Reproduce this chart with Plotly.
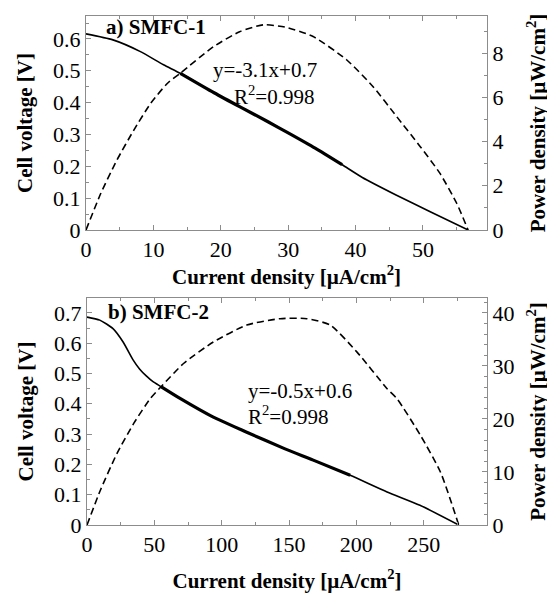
import plotly.graph_objects as go

# ---------------- data ----------------
# a) SMFC-1
i1_v = [0, 4, 8, 11.5, 14, 19, 23, 27, 30, 34, 38, 41, 46, 51, 56.7]
v1 = [0.616, 0.597, 0.561, 0.519, 0.492, 0.431, 0.385, 0.34, 0.305, 0.257, 0.205, 0.165, 0.11, 0.058, 0.0]
i1_p = [0, 2.2, 4.6, 7.1, 9.6, 12.1, 14.0, 18.9, 22.8, 26.3, 29.5, 33.7, 38.7, 42.6, 46.1, 49.6, 52.5, 55.0, 56.7]
p1 = [0, 1.66, 3.17, 4.52, 5.73, 6.64, 7.09, 8.29, 8.97, 9.28, 9.18, 8.75, 7.69, 6.48, 5.13, 3.77, 2.57, 1.21, 0]
fit1_range = [13, 38]

# b) SMFC-2
i2_v = [0, 9.5, 19.3, 26.8, 34.2, 39, 44, 49, 55.2, 69.4, 93.8, 118.2, 146.6, 168, 195.4, 222.8, 247.2, 276]
v2 = [0.686, 0.676, 0.648, 0.604, 0.545, 0.515, 0.492, 0.473, 0.456, 0.417, 0.356, 0.307, 0.252, 0.214, 0.164, 0.109, 0.065, 0]
i2_p = [0, 10, 22.3, 34.8, 47.2, 55.1, 71.9, 93.8, 118.6, 143.4, 163.2, 180.6, 200.5, 222.8, 230.2, 247.6, 262.4, 276]
p2 = [0, 6.6, 13.5, 19.2, 23.9, 26.1, 30.5, 34.5, 37.7, 38.9, 38.9, 37.7, 32.6, 25.7, 23.8, 16.9, 10, 0]
fit2_range = [54, 196]

labels = {
    "title1": "a) SMFC-1", "title2": "b) SMFC-2",
    "eq1": "y=-3.1x+0.7", "eq2": "y=-0.5x+0.6", "r2": "R<sup>2</sup>=0.998",
    "x": "Current density [µA/cm<sup>2</sup>]",
    "yl": "Cell voltage [V]",
    "yr": "Power density [µW/cm<sup>2</sup>]",
}

# ---------------- figure ----------------
OFF = 8                       # browser body margin
W, H = 555 - OFF, 593 - OFF
ML, MR, MT, MB = 86 - OFF, 68, 16 - OFF, 68
PW, PH = W - ML - MR, H - MT - MB
FONT = "Liberation Serif, Times New Roman, serif"
AX = "#8c8c8c"


def px(x):
    return (x - 86) / PW


def py(y):
    return (525 - y) / PH


def sub(xs, ys, r):
    pts = [(a, b) for a, b in zip(xs, ys) if r[0] <= a <= r[1]]
    return [p[0] for p in pts], [p[1] for p in pts]


fig = go.Figure()
solid = dict(color="black", width=1.6, shape="spline", smoothing=0.6)
thick = dict(color="black", width=3.2, shape="spline", smoothing=0.6)
dashed = dict(color="black", width=1.6, dash="7px,4px", shape="spline", smoothing=0.6)

# panel a
fig.add_trace(go.Scatter(x=i1_v, y=v1, mode="lines", line=solid, xaxis="x", yaxis="y"))
fx, fy = sub(i1_v, v1, fit1_range)
fig.add_trace(go.Scatter(x=fx, y=fy, mode="lines", line=thick, xaxis="x", yaxis="y"))
fig.add_trace(go.Scatter(x=i1_p, y=p1, mode="lines", line=dashed, xaxis="x", yaxis="y2"))

# panel b
fig.add_trace(go.Scatter(x=i2_v, y=v2, mode="lines", line=solid, xaxis="x2", yaxis="y3"))
fx, fy = sub(i2_v, v2, fit2_range)
fig.add_trace(go.Scatter(x=fx, y=fy, mode="lines", line=thick, xaxis="x2", yaxis="y3"))
fig.add_trace(go.Scatter(x=i2_p, y=p2, mode="lines", line=dashed, xaxis="x2", yaxis="y4"))

tickfont = dict(family=FONT, size=22, color="black")
titlefont = dict(family=FONT, size=21, color="black")

common = dict(showline=True, linecolor=AX, linewidth=1, ticks="inside", tickcolor=AX,
              ticklen=5, showgrid=False, zeroline=False, tickfont=tickfont,
              title_font=titlefont)

top_dom = [py(230), 1.0]
bot_dom = [0.0, py(298)]


def minor(d):
    return dict(dtick=d, ticks="inside", ticklen=3, tickcolor=AX)


fig.update_layout(
    width=W, height=H,
    margin=dict(l=ML, r=MR, t=MT, b=MB, autoexpand=False),
    paper_bgcolor="white", plot_bgcolor="white",
    showlegend=False,
    font=dict(family=FONT, color="black"),
    xaxis=dict(**common, domain=[0, 1], range=[0, 59.5], dtick=10, mirror="ticks",
               minor=minor(5), anchor="y",
               title=dict(text="<b>" + labels["x"] + "</b>", standoff=0)),
    yaxis=dict(**common, domain=top_dom, range=[0, 0.672], dtick=0.1, mirror=True,
               minor=minor(0.05), anchor="x",
               title=dict(text="<b>" + labels["yl"] + "</b>", standoff=14)),
    yaxis2=dict(**common, range=[0, 9.68], dtick=2, overlaying="y", side="right",
                minor=minor(1), anchor="x",
                title=dict(text="<b>" + labels["yr"] + "</b>", standoff=27)),
    xaxis2=dict(**common, domain=[px(87), 1], range=[0, 297], dtick=50, mirror="ticks",
                minor=minor(25), anchor="y3",
                title=dict(text="<b>" + labels["x"] + "</b>", standoff=20)),
    yaxis3=dict(**common, domain=bot_dom, range=[0, 0.749], dtick=0.1, mirror=True,
                minor=minor(0.05), anchor="x2",
                title=dict(text="<b>" + labels["yl"] + "</b>", standoff=14)),
    yaxis4=dict(**common, range=[0, 42.8], dtick=10, overlaying="y3", side="right",
                minor=minor(2), anchor="x2",
                title=dict(text="<b>" + labels["yr"] + "</b>", standoff=16)),
)

ann = [
    (labels["title1"], 156, 27, True),
    (labels["eq1"], 264.5, 70, False),
    (labels["r2"], 274, 95, False),
    (labels["title2"], 158, 312, True),
    (labels["eq2"], 300, 391, False),
    (labels["r2"], 288, 415, False),
]
for text, x, y, bold in ann:
    fig.add_annotation(xref="paper", yref="paper", x=px(x), y=py(y),
                       xanchor="center", yanchor="middle", showarrow=False,
                       text=("<b>" + text + "</b>") if bold else text,
                       font=dict(family=FONT, size=21, color="black"))

fig.write_html("out.html")
